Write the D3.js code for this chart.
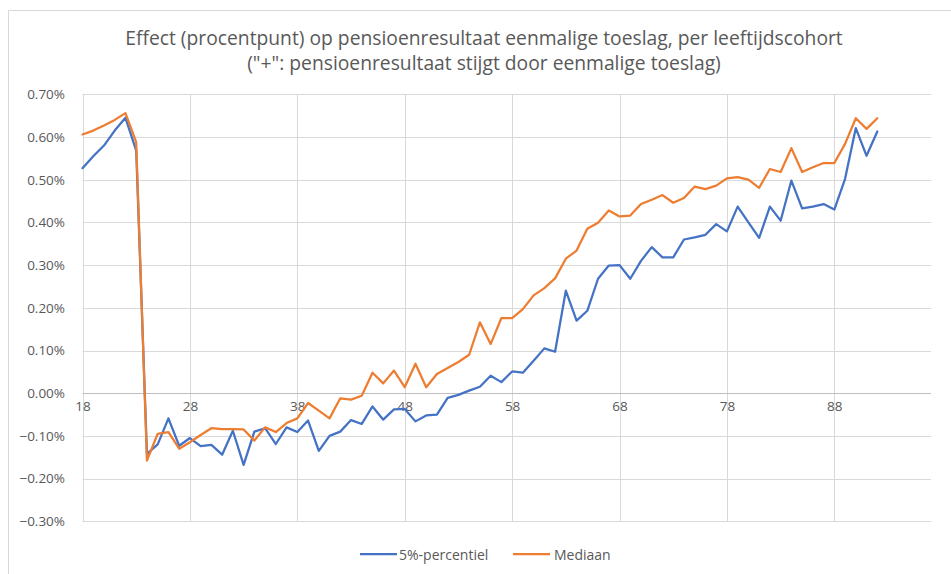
<!DOCTYPE html>
<html>
<head>
<meta charset="utf-8">
<script src="https://cdn.jsdelivr.net/npm/d3@7"></script>
<style>
  html, body { margin: 0; padding: 0; background: #fff; }
  svg { display: block; }
  text { font-family: "Open Sans", "Liberation Sans", sans-serif; fill: #595959; }
</style>
</head>
<body>
<svg id="chart" width="951" height="574"></svg>
<script>
// ---- Data ----
const titleLines = [
  "Effect (procentpunt) op pensioenresultaat eenmalige toeslag, per leeftijdscohort",
  "(\"+\": pensioenresultaat stijgt door eenmalige toeslag)"
];
const ages = d3.range(18, 93);           // data categories 18..92
const axisAges = d3.range(18, 98);       // axis categories 18..97
const xTickLabels = [18, 28, 38, 48, 58, 68, 78, 88];
const yTicks = [-0.3, -0.2, -0.1, 0, 0.1, 0.2, 0.3, 0.4, 0.5, 0.6, 0.7];
const seriesNames = ["5%-percentiel", "Mediaan"];
const seriesColors = ["#4472C4", "#ED7D31"];

const p5 = [
  0.527, 0.555, 0.580, 0.615, 0.645, 0.568, -0.142, -0.120, -0.059, -0.123,
  -0.105, -0.124, -0.121, -0.144, -0.088, -0.168, -0.090, -0.082, -0.119, -0.080,
  -0.091, -0.064, -0.135, -0.100, -0.090, -0.063, -0.072, -0.031, -0.062, -0.038,
  -0.037, -0.066, -0.052, -0.050, -0.011, -0.004, 0.006, 0.015, 0.041, 0.026,
  0.051, 0.048, 0.076, 0.105, 0.097, 0.240, 0.170, 0.193, 0.268, 0.299,
  0.300, 0.268, 0.310, 0.342, 0.318, 0.318, 0.360, 0.365, 0.371, 0.396,
  0.379, 0.437, 0.400, 0.364, 0.437, 0.404, 0.498, 0.433, 0.437, 0.443,
  0.430, 0.502, 0.621, 0.556, 0.613
];
const mediaan = [
  0.606, 0.615, 0.627, 0.640, 0.656, 0.588, -0.158, -0.095, -0.091, -0.130,
  -0.115, -0.098, -0.082, -0.084, -0.084, -0.085, -0.111, -0.080, -0.091, -0.070,
  -0.059, -0.023, -0.041, -0.059, -0.012, -0.015, -0.006, 0.048, 0.023, 0.053,
  0.014, 0.069, 0.014, 0.045, 0.059, 0.073, 0.090, 0.166, 0.115, 0.176,
  0.176, 0.197, 0.229, 0.246, 0.269, 0.315, 0.334, 0.385, 0.399, 0.428,
  0.414, 0.416, 0.443, 0.453, 0.464, 0.446, 0.457, 0.484, 0.478, 0.486,
  0.503, 0.506, 0.500, 0.481, 0.525, 0.518, 0.574, 0.518, 0.529, 0.539,
  0.539, 0.584, 0.644, 0.619, 0.644
];
const series = [p5, mediaan];

// ---- Layout ----
const svg = d3.select("#chart");
const plot = { left: 82.5, right: 931, top: 94.3, bottom: 521.3 };

// frame
svg.append("path")
  .attr("d", `M8.5,574 L8.5,10.5 L951,10.5`)
  .attr("fill", "none").attr("stroke", "#d9d9d9").attr("stroke-width", 1);

const x = d3.scalePoint().domain(axisAges).range([plot.left, plot.right]);
const y = d3.scaleLinear().domain([-0.3, 0.7]).range([plot.bottom, plot.top]);

// horizontal gridlines
svg.append("g").selectAll("line").data(yTicks.filter(t => Math.abs(t) > 1e-9)).join("line")
  .attr("x1", plot.left).attr("x2", plot.right)
  .attr("y1", d => Math.round(y(d)) + 0.5).attr("y2", d => Math.round(y(d)) + 0.5)
  .attr("stroke", "#d9d9d9").attr("stroke-width", 1);

// vertical gridlines
svg.append("g").selectAll("line").data(xTickLabels).join("line")
  .attr("x1", d => Math.round(x(d)) + 0.5).attr("x2", d => Math.round(x(d)) + 0.5)
  .attr("y1", plot.top).attr("y2", plot.bottom)
  .attr("stroke", "#d9d9d9").attr("stroke-width", 1);

// y axis labels
const yAxis = d3.axisLeft(y).tickValues(yTicks).tickSize(0).tickPadding(0)
  .tickFormat(d => d3.format(".2f")(d) + "%");
const gy = svg.append("g").attr("transform", `translate(65,0)`).call(yAxis);
gy.select(".domain").remove();
gy.selectAll("text").style("font-size", "13.5px").attr("fill", "#6a6a6a")
  .style("font-family", "'Open Sans', sans-serif");

// zero line (category axis)
svg.append("line")
  .attr("x1", plot.left).attr("x2", plot.right)
  .attr("y1", Math.round(y(0)) + 0.5).attr("y2", Math.round(y(0)) + 0.5)
  .attr("stroke", "#bfbfbf").attr("stroke-width", 1);

// x axis labels at the zero line
const xAxis = d3.axisBottom(x).tickValues(xTickLabels).tickSize(0).tickPadding(0);
const gx = svg.append("g").attr("transform", `translate(0,${y(0) + 8})`).call(xAxis);
gx.select(".domain").remove();
gx.selectAll("text").style("font-size", "13.5px").attr("fill", "#6a6a6a")
  .attr("dy", "0.71em").style("font-family", "'Open Sans', sans-serif");

// lines
const line = d3.line().x((d, i) => x(ages[i])).y(d => y(d));
series.forEach((s, k) => {
  svg.append("path").datum(s)
    .attr("d", line)
    .attr("fill", "none")
    .attr("stroke", seriesColors[k])
    .attr("stroke-width", 2.25)
    .attr("stroke-linejoin", "round")
    .attr("stroke-linecap", "round");
});

// title
const titleG = svg.append("g");
const titleY = [37.5, 62.5];
titleLines.forEach((t, i) => {
  titleG.append("text")
    .attr("x", 484).attr("y", titleY[i])
    .attr("text-anchor", "middle")
    .attr("dominant-baseline", "central")
    .style("font-size", "16.5px")
    .text(t);
});
// fit first title line to reference width (~718px)
const t0 = titleG.select("text").node();
const w0 = t0.getComputedTextLength();
const fs = 16.5 * 718 / w0;
titleG.selectAll("text").style("font-size", fs + "px");

// legend
const legend = svg.append("g");
const legendItems = [
  { x0: 360, x1: 397, tx: 399 },
  { x0: 513, x1: 550, tx: 554 }
];
seriesNames.forEach((n, k) => {
  const li = legendItems[k];
  legend.append("line")
    .attr("x1", li.x0).attr("x2", li.x1).attr("y1", 554).attr("y2", 554)
    .attr("stroke", seriesColors[k]).attr("stroke-width", 2.25);
  legend.append("text")
    .attr("x", li.tx).attr("y", 554)
    .attr("dominant-baseline", "central")
    .style("font-size", "14px")
    .text(n);
});
</script>
</body>
</html>
